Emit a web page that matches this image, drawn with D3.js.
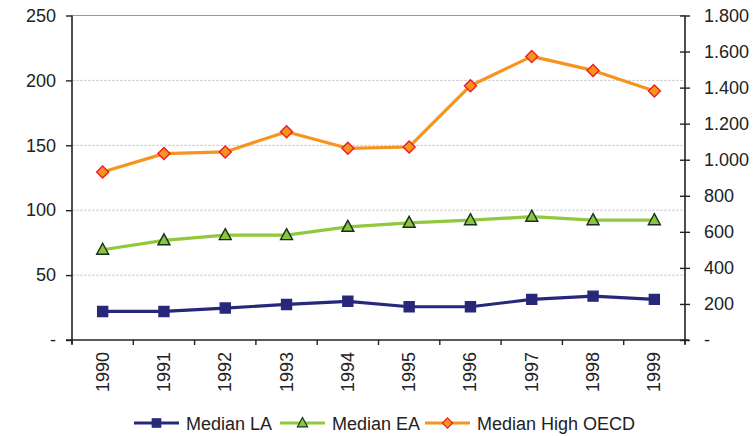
<!DOCTYPE html>
<html>
<head>
<meta charset="utf-8">
<script src="https://cdnjs.cloudflare.com/ajax/libs/d3/7.8.5/d3.min.js"></script>
<style>
  body { margin: 0; background: #fff; }
  svg { display: block; font-family: "Liberation Sans", Arial, sans-serif; }
</style>
</head>
<body>
<div id="chart"></div>
<script>
// chart data
var years = ["1990", "1991", "1992", "1993", "1994", "1995", "1996", "1997", "1998", "1999"];
var medianLA = [22, 22, 24.6, 27.4, 29.8, 25.6, 25.6, 31.3, 33.8, 31.3];
var medianEA = [69.5, 76.8, 80.8, 80.8, 87.2, 90.3, 92.3, 95, 92.3, 92.3];
var medianHighOECD = [129.5, 143.6, 144.9, 160.5, 147.7, 148.7, 195.9, 218.5, 207.7, 191.8];
var leftTicks = [0, 50, 100, 150, 200, 250];
var rightTicks = [0, 200, 400, 600, 800, 1000, 1200, 1400, 1600, 1800];
var seriesNames = ["Median LA", "Median EA", "Median High OECD"];

var width = 753, height = 436;
var plot = { left: 72, right: 685, top: 15.5, bottom: 340 };

var svg = d3.select("#chart")
    .append("svg")
    .attr("width", width)
    .attr("height", height);

var x = d3.scaleBand()
    .domain(years)
    .range([plot.left, plot.right])
    .paddingInner(0)
    .paddingOuter(0);

var y = d3.scaleLinear()
    .domain([0, 250])
    .range([plot.bottom, plot.top]);

var y2 = d3.scaleLinear()
    .domain([0, 1800])
    .range([plot.bottom, plot.top]);

// number format with dot thousands separator, zero shown as "-"
var fmt = function (d) {
    if (d === 0) return "-";
    return d3.format(",")(d).replace(/,/g, ".");
};

// gridlines
svg.selectAll(".grid")
    .data(leftTicks.filter(function (d) { return d > 0 && d < 250; }))
    .enter()
    .append("line")
    .attr("class", "grid")
    .attr("x1", plot.left)
    .attr("x2", plot.right)
    .attr("y1", function (d) { return y(d); })
    .attr("y2", function (d) { return y(d); })
    .attr("stroke", "#cfcfcf")
    .attr("stroke-width", 1)
    .attr("stroke-dasharray", "3,1");

// top border
svg.append("line")
    .attr("x1", plot.left)
    .attr("x2", plot.right)
    .attr("y1", y(250))
    .attr("y2", y(250))
    .attr("stroke", "#9a9a9a")
    .attr("stroke-width", 1.2);

// left axis
var leftAxis = d3.axisLeft(y)
    .tickValues(leftTicks)
    .tickSize(6)
    .tickPadding(10)
    .tickFormat(fmt);

var gl = svg.append("g")
    .attr("transform", "translate(" + plot.left + ",0)")
    .call(leftAxis);
gl.select(".domain").remove();
gl.append("line")
    .attr("x1", 0).attr("x2", 0)
    .attr("y1", plot.top).attr("y2", plot.bottom + 4)
    .attr("stroke", "#222").attr("stroke-width", 1.6);
gl.selectAll(".tick line").attr("stroke", "#222").attr("stroke-width", 1.4);
gl.selectAll(".tick text")
    .attr("fill", "#222")
    .style("font-size", "18px")
    .style("font-family", "Liberation Sans, Arial, sans-serif");

// right axis
var rightAxis = d3.axisRight(y2)
    .tickValues(rightTicks)
    .tickSizeInner(5)
    .tickSizeOuter(0)
    .tickPadding(14)
    .tickFormat(fmt);

var gr = svg.append("g")
    .attr("transform", "translate(" + plot.right + ",0)")
    .call(rightAxis);
gr.select(".domain").remove();
gr.append("line")
    .attr("x1", 0).attr("x2", 0)
    .attr("y1", plot.top).attr("y2", plot.bottom + 4)
    .attr("stroke", "#222").attr("stroke-width", 1.6);
gr.selectAll(".tick line")
    .attr("x1", -5)
    .attr("x2", 5)
    .attr("stroke", "#222").attr("stroke-width", 1.4);
gr.selectAll(".tick text")
    .attr("fill", "#222")
    .style("font-size", "18px")
    .style("font-family", "Liberation Sans, Arial, sans-serif");

// bottom axis
svg.append("line")
    .attr("x1", plot.left - 6)
    .attr("x2", plot.right + 4)
    .attr("y1", plot.bottom)
    .attr("y2", plot.bottom)
    .attr("stroke", "#222")
    .attr("stroke-width", 1.6);

var boundaries = years.map(function (d) { return x(d); }).concat([plot.right]);
svg.selectAll(".xtick")
    .data(boundaries)
    .enter()
    .append("line")
    .attr("class", "xtick")
    .attr("x1", function (d) { return d; })
    .attr("x2", function (d) { return d; })
    .attr("y1", plot.bottom)
    .attr("y2", plot.bottom + 5)
    .attr("stroke", "#222")
    .attr("stroke-width", 1.4);

svg.selectAll(".xlabel")
    .data(years)
    .enter()
    .append("text")
    .attr("class", "xlabel")
    .attr("transform", function (d) {
        return "translate(" + (x(d) + x.bandwidth() / 2 + 6) + "," + (plot.bottom + 12) + ") rotate(-90)";
    })
    .attr("text-anchor", "end")
    .attr("fill", "#222")
    .style("font-size", "18px")
    .text(function (d) { return d; });

// lines and markers
var series = [
    { name: seriesNames[0], values: medianLA, color: "#27287a", marker: "square", fill: "#27287a", stroke: "#27287a" },
    { name: seriesNames[1], values: medianEA, color: "#92c83e", marker: "triangle", fill: "#8cc43f", stroke: "#14331a" },
    { name: seriesNames[2], values: medianHighOECD, color: "#f7941d", marker: "diamond", fill: "#f7941d", stroke: "#ee1c25" }
];

var line = d3.line()
    .x(function (d, i) { return x(years[i]) + x.bandwidth() / 2; })
    .y(function (d) { return y(d); });

function markerPath(type) {
    if (type === "square") return "M-5,-5H5V5H-5Z";
    if (type === "triangle") return "M0,-6.5L6,4.5H-6Z";
    return "M0,-6L6,0L0,6L-6,0Z";
}

series.forEach(function (s) {
    svg.append("path")
        .datum(s.values)
        .attr("d", line)
        .attr("fill", "none")
        .attr("stroke", s.color)
        .attr("stroke-width", 3.2)
        .attr("stroke-linejoin", "round");

    svg.selectAll(".m-" + s.marker)
        .data(s.values)
        .enter()
        .append("path")
        .attr("class", "m-" + s.marker)
        .attr("d", markerPath(s.marker))
        .attr("transform", function (d, i) {
            return "translate(" + (x(years[i]) + x.bandwidth() / 2) + "," + y(d) + ")";
        })
        .attr("fill", s.fill)
        .attr("stroke", s.stroke)
        .attr("stroke-width", 1.4);
});

// legend
var legendX = [134, 280, 425];
var legend = svg.selectAll(".legend")
    .data(series)
    .enter()
    .append("g")
    .attr("class", "legend")
    .attr("transform", function (d, i) { return "translate(" + legendX[i] + ",423)"; });

legend.append("line")
    .attr("x1", 0).attr("x2", 45)
    .attr("y1", 0).attr("y2", 0)
    .attr("stroke", function (d) { return d.color; })
    .attr("stroke-width", 3.2);

legend.append("path")
    .attr("d", function (d) { return markerPath(d.marker); })
    .attr("transform", "translate(22.5,0) scale(0.85)")
    .attr("fill", function (d) { return d.fill; })
    .attr("stroke", function (d) { return d.stroke; })
    .attr("stroke-width", 1.4);

legend.append("text")
    .attr("x", 52)
    .attr("y", 6.5)
    .attr("fill", "#222")
    .style("font-size", "18px")
    .text(function (d) { return d.name; });
</script>
</body>
</html>
